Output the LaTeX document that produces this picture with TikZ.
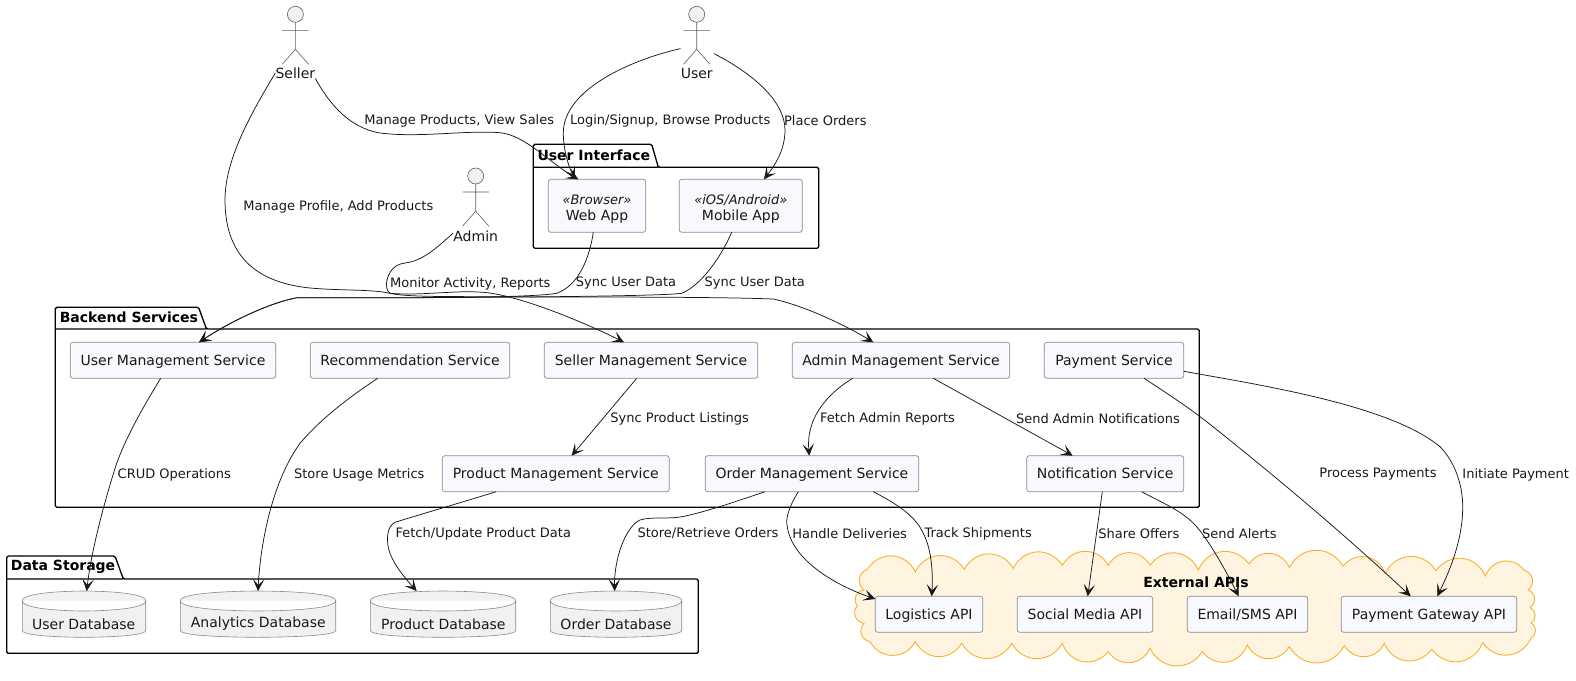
\documentclass[tikz,border=0pt]{standalone}
\usepackage{fontspec}
\setmainfont{DejaVu Sans}
\usepackage{xcolor}
\definecolor{svcfill}{HTML}{F8F9FE}
\definecolor{svcline}{HTML}{8A8A8A}
\definecolor{dbfill}{HTML}{F1F1F1}
\definecolor{inkline}{HTML}{181818}
\definecolor{cloudfill}{HTML}{FFF4E0}
\definecolor{cloudline}{HTML}{FBB02D}
\usetikzlibrary{arrows.meta, positioning}

\begin{document}
\begin{tikzpicture}[
      x = 1pt, y = -1pt,
      boxed/.style = {draw = svcline, fill = svcfill, line width = .7pt, rounded corners = 2.5pt,
                      inner sep = 0pt, outer sep = 0pt, font = \fontsize{14}{16}\selectfont, text = inkline},
      svc/.style   = {boxed, minimum height = 36pt, text height = 12.4pt, text depth = 3pt},
      app/.style   = {boxed, minimum height = 53pt, align = center},
      dbbody/.style= {inner sep = 0pt, outer sep = 0pt, minimum height = 46.3pt},
      dbshape/.style = {draw = svcline, fill = dbfill, line width = .6pt},
      dbtext/.style = {inner sep = 0pt, font = \fontsize{14}{17}\selectfont, text = inkline},
      actor/.style = {draw = inkline!70, line width = .6pt},
      head/.style  = {actor, fill = dbfill},
      who/.style   = {inner sep = 0pt, font = \fontsize{14}{17}\selectfont, text = inkline},
      pkg/.style   = {draw = black, line width = 1.3pt, rounded corners = 1.5pt},
      pkgname/.style = {anchor = west, inner sep = 0pt, font = \fontsize{14}{17}\selectfont\bfseries},
      arr/.style   = {-{Stealth[length = 12pt, width = 11.5pt, inset = 6pt]}, draw = inkline, line width = .75pt},
      lbl/.style   = {inner sep = 0pt, yshift = -1pt, font = \fontsize{13}{16}\selectfont, text = inkline},
      bump/.style  = {bend left = 60, looseness = 1.2},
      nub/.style   = {bend left = 60, looseness = 1.2}
    ]
  \useasboundingbox (0,0) rectangle (1576,680);

  % cloud -----------------------------------------------------------------
  \draw[draw = cloudline, fill = cloudfill, line width = .9pt]
    (867.3,569.3) to[bump] (915.3,571.7) to[bump] (964.3,569.3) to[bump] (1013.3,568.3)
    to[bump] (1062.3,565.3) to[bump] (1108.3,565.3) to[bump] (1150,565.3) to[bump] (1198.3,570)
    to[bump] (1249,564) to[bump] (1289.3,567.3) to[bump] (1343,566) to[bump] (1385,573.3)
    to[bump] (1436,570.7) to[bump] (1485.3,576) to[bump] (1524,570) to[nub] (1528.3,590)
    to[nub] (1530,607.7) to[nub] (1531,623) to[nub] (1531,638)
    to[bump] (1482.7,642.7) to[bump] (1431.7,649.3) to[bump] (1384.3,643.3) to[bump] (1344.3,645.7)
    to[bump] (1289.3,646.7) to[bump] (1247.3,645) to[bump] (1202.3,651.7) to[bump] (1150,648.3)
    to[bump] (1108.3,651.7) to[bump] (1062.3,643.3) to[bump] (1011.7,643.3) to[bump] (961.7,643.3)
    to[bump] (915.3,641.7) to[bump] (870,641.7) to[nub] (864,623.3) to[nub] (857.3,605.7)
    to[nub] (864,590) to[nub] (867.3,569.3) -- cycle;
    \node[pkgname, anchor = center] (cloudname) at (1196,582) {External APIs};

  % packages --------------------------------------------------------------
  \draw[pkg] (533.3,167.3) -- (533.3,144.3) -- (651.7,144.3) -- (658.3,167.3) -- (818.7,167.3)
             -- (818.7,248.3) -- (533.3,248.3) -- cycle (533.3,167.3) -- (658.3,167.3);
    \node[pkgname] (uiname) at (537.3,155) {User Interface};
  \draw[pkg] (55.3,329) -- (55.3,307.3) -- (198.6,307.3) -- (206.4,329) -- (1199.3,329)
             -- (1199.3,507.3) -- (55.3,507.3) -- cycle (55.3,329) -- (206.4,329);
    \node[pkgname] (bkname) at (59.6,317) {Backend Services};
  \draw[pkg] (6.7,579) -- (6.7,556) -- (115,556) -- (123.3,579) -- (698.3,579)
             -- (698.3,653.3) -- (6.7,653.3) -- cycle (6.7,579) -- (123.3,579);
    \node[pkgname] (dsname) at (10.7,567) {Data Storage};

  % actors ----------------------------------------------------------------
  \draw[head] (295.4,14.3) circle (8);
  \draw[actor] (295.4,22.3) -- (295.4,49.3) (282.2,30.3) -- (308.6,30.3)
               (282.2,64.3) -- (295.4,49.3) -- (308.6,64.3);
    \node[who] (seller) at (295.4,73) {Seller};
  \draw[head] (475.7,176) circle (8);
  \draw[actor] (475.7,184) -- (475.7,211.2) (462.5,192) -- (488.9,192)
               (462.5,226.3) -- (475.7,211.2) -- (488.9,226.3);
    \node[who] (admin) at (475.7,236) {Admin};
  \draw[head] (696.7,14.3) circle (8);
  \draw[actor] (696.7,22.3) -- (696.7,49.3) (683.5,30.3) -- (709.9,30.3)
               (683.5,64.3) -- (696.7,49.3) -- (709.9,64.3);
    \node[who] (user) at (696.7,73) {User};

  % apps and services -----------------------------------------------------
  \node[app, minimum width = 97.4pt] (web) at (597,205.8) {\rule{0pt}{17pt}{\fontsize{13}{16}\selectfont\textit{«Browser»}}\\Web App};
  \node[app, minimum width = 123pt] (mobile) at (740.8,205.8) {\rule{0pt}{17pt}{\fontsize{13}{16}\selectfont\textit{«iOS/Android»}}\\Mobile App};

  \node[svc, minimum width = 205.4pt] (usrsvc) at (173,360.3) {User Management Service};
  \node[svc, minimum width = 199.4pt] (recsvc) at (410,360.3) {Recommendation Service};
  \node[svc, minimum width = 213.4pt] (slrsvc) at (651,360.3) {Seller Management Service};
  \node[svc, minimum width = 217.4pt] (admsvc) at (901,360.3) {Admin Management Service};
  \node[svc, minimum width = 139.4pt] (paysvc) at (1114,360.3) {Payment Service};
  \node[svc, minimum width = 227pt] (prdsvc) at (555.8,473.7) {Product Management Service};
  \node[svc, minimum width = 213.4pt] (ordsvc) at (812,473.7) {Order Management Service};
  \node[svc, minimum width = 157pt] (ntfsvc) at (1105.2,473.7) {Notification Service};

  \node[svc, minimum width = 107.4pt] (logapi) at (929,614.3) {Logistics API};
  \node[svc, minimum width = 135.4pt] (socapi) at (1085,614.3) {Social Media API};
  \node[svc, minimum width = 120.4pt] (emlapi) at (1247.5,614.3) {Email/SMS API};
  \node[svc, minimum width = 175.4pt] (gwyapi) at (1429,614.3) {Payment Gateway API};

  % databases -------------------------------------------------------------
  \node[dbbody, minimum width = 123.4pt] (usrdb) at (84,614.2) {};
  \draw[dbshape] (22.3,600.7) .. controls (22.3,591) and (84,591) .. (84,591)
    .. controls (84,591) and (145.7,591) .. (145.7,600.7) -- (145.7,630.5)
    .. controls (145.7,637.3) and (84,637.3) .. (84,637.3)
    .. controls (84,637.3) and (22.3,637.3) .. (22.3,630.5) -- cycle
    (22.3,600.7) .. controls (22.3,611) and (84,611) .. (84,611)
    .. controls (84,611) and (145.7,611) .. (145.7,600.7);
    \node[dbtext] (usrdbname) at (83.7,624) {User Database};
  \node[dbbody, minimum width = 155.4pt] (anldb) at (258,614.2) {};
  \draw[dbshape] (180.3,600.7) .. controls (180.3,591) and (258,591) .. (258,591)
    .. controls (258,591) and (335.7,591) .. (335.7,600.7) -- (335.7,630.5)
    .. controls (335.7,637.3) and (258,637.3) .. (258,637.3)
    .. controls (258,637.3) and (180.3,637.3) .. (180.3,630.5) -- cycle
    (180.3,600.7) .. controls (180.3,611) and (258,611) .. (258,611)
    .. controls (258,611) and (335.7,611) .. (335.7,600.7);
    \node[dbtext] (anldbname) at (258.3,624) {Analytics Database};
  \node[dbbody, minimum width = 145.4pt] (prddb) at (443,614.2) {};
  \draw[dbshape] (370.3,600.7) .. controls (370.3,591) and (443,591) .. (443,591)
    .. controls (443,591) and (515.7,591) .. (515.7,600.7) -- (515.7,630.5)
    .. controls (515.7,637.3) and (443,637.3) .. (443,637.3)
    .. controls (443,637.3) and (370.3,637.3) .. (370.3,630.5) -- cycle
    (370.3,600.7) .. controls (370.3,611) and (443,611) .. (443,611)
    .. controls (443,611) and (515.7,611) .. (515.7,600.7);
    \node[dbtext] (prddbname) at (443.3,624) {Product Database};
  \node[dbbody, minimum width = 131.4pt] (orddb) at (616,614.2) {};
  \draw[dbshape] (550.3,600.7) .. controls (550.3,591) and (616,591) .. (616,591)
    .. controls (616,591) and (681.7,591) .. (681.7,600.7) -- (681.7,630.5)
    .. controls (681.7,637.3) and (616,637.3) .. (616,637.3)
    .. controls (616,637.3) and (550.3,637.3) .. (550.3,630.5) -- cycle
    (550.3,600.7) .. controls (550.3,611) and (616,611) .. (616,611)
    .. controls (616,611) and (681.7,611) .. (681.7,600.7);
    \node[dbtext] (orddbname) at (616,624) {Order Database};

  % actors to interface ---------------------------------------------------
  \draw[arr] (seller.south east) .. controls (330,105) and (350,128) .. (380,133)
    .. controls (420,138) and (465,130) .. (500,132.7)
    .. controls (525,135) and (550,163) .. ([xshift=-18.7pt]web.north);
    \node[lbl] (lbsales) at (459.2,120) {Manage Products, View Sales};
  \draw[arr] ([shift={(0,-19)}]user.north west) .. controls (630,60) and (563,90) .. (563.3,133.3)
    .. controls (563.5,150) and (568,165) .. ([xshift=-22pt]web.north);
    \node[lbl] (lblogin) at (670.2,120) {Login/Signup, Browse Products};
  \draw[arr] ([shift={(1,-14)}]user.north east) .. controls (750,72) and (785,100) .. (785,130)
    .. controls (785,150) and (775,165) .. ([xshift=23.2pt]mobile.north);
    \node[lbl] (lborders) at (825.3,120) {Place Orders};

  % actors to services ----------------------------------------------------
  \draw[arr] (seller.west) .. controls (250,115) and (225,160) .. (225,200)
    .. controls (225,250) and (250,282) .. (310,288)
    .. controls (345,291) and (370,289) .. (390,293.3)
    .. controls (420,296) and (455,290) .. (483,292.3)
    .. controls (520,295) and (590,325) .. ([xshift=-27pt]slrsvc.north);
    \node[lbl] (lbprofile) at (338.3,206) {Manage Profile, Add Products};
  \draw[arr] ([shift={(0,-3)}]admin.west) .. controls (440,245) and (430,254) .. (418.3,259.3)
    .. controls (408,264) and (402,262) .. (396,266)
    .. controls (387,272) and (383,288) .. (390,293.3)
    .. controls (410,298) and (470,296) .. (540,297)
    .. controls (620,297) and (720,297) .. (773.3,299)
    .. controls (805,306) and (845,325) .. ([xshift=-27.7pt]admsvc.north);
    \node[lbl] (lbmonitor) at (470.3,282.5) {Monitor Activity, Reports};
  \draw[arr] ([xshift=-3.7pt]web.south) .. controls (590,255) and (580,285) .. (556.7,293.3)
    .. controls (530,298) and (410,298) .. (296.4,297.8)
    .. controls (265,304) and (225,325) .. ([xshift=26pt]usrsvc.north);
    \node[lbl] (lbsyncweb) at (626,282.5) {Sync User Data};
  \draw[arr] ([xshift=-9.1pt]mobile.south) .. controls (722,255) and (702,285) .. (681.7,293.3)
    .. controls (655,297) and (410,298) .. (296.4,297.8)
    .. controls (265,304) and (225,325) .. ([xshift=26pt]usrsvc.north);
    \node[lbl] (lbsyncapp) at (754.8,282.5) {Sync User Data};

  % services to services --------------------------------------------------
  \draw[arr] ([xshift=-14.3pt]slrsvc.south) -- ([xshift=15.9pt]prdsvc.north);
    \node[lbl] (lblistings) at (679.7,417.5) {Sync Product Listings};
  \draw[arr] ([xshift=-48.3pt]admsvc.south) .. controls (825,395) and (806,420) .. ([xshift=-2.7pt]ordsvc.north);
    \node[lbl] (lbreports) at (887.5,417.5) {Fetch Admin Reports};
  \draw[arr] ([xshift=32.3pt]admsvc.south) -- ([xshift=-32.5pt]ntfsvc.north);
    \node[lbl] (lbnotify) at (1098,417.5) {Send Admin Notifications};

  % services to storage ---------------------------------------------------
  \draw[arr] ([xshift=-12.3pt]usrsvc.south) .. controls (140,412) and (125,440) .. (116.7,463.3)
    .. controls (108,490) and (92,545) .. ([xshift=2.7pt]usrdb.north);
    \node[lbl] (lbcrud) at (174.3,473.5) {CRUD Operations};
  \draw[arr] ([xshift=-32.3pt]recsvc.south) .. controls (345,400) and (320,420) .. (300,443.3)
    .. controls (270,485) and (260,550) .. (anldb.north);
    \node[lbl] (lbmetrics) at (359.3,473.5) {Store Usage Metrics};
  \draw[arr] ([xshift=-59.8pt]prdsvc.south) .. controls (463,502) and (425,513) .. (395,522.3)
    .. controls (388,526) and (387,535) .. (387.7,543.3)
    .. controls (389,560) and (405,578) .. ([xshift=-26.3pt]prddb.north);
    \node[lbl] (lbfetch) at (483.3,532.5) {Fetch/Update Product Data};
  \draw[arr] ([xshift=-47pt]ordsvc.south) .. controls (740,500) and (712,510) .. (686.7,515.7)
    .. controls (670,520) and (653,516) .. (640,520)
    .. controls (625,527) and (614,560) .. ([xshift=-1.3pt]orddb.north);
    \node[lbl] (lbstore) at (708,532.5) {Store/Retrieve Orders};

  % services to external apis ---------------------------------------------
  \draw[arr] ([xshift=-13.7pt]ordsvc.south) .. controls (790,505) and (785,518) .. (787.3,526.7)
    .. controls (792,560) and (835,585) .. ([shift={(0,-15.3)}]logapi.west);
    \node[lbl] (lbdeliver) at (849.7,532.5) {Handle Deliveries};
  \draw[arr] ([xshift=61.3pt]ordsvc.south) .. controls (895,503) and (915,515) .. (923.3,533.3)
    .. controls (932,550) and (933,575) .. ([xshift=2.7pt]logapi.north);
    \node[lbl] (lbtrack) at (978.2,532.5) {Track Shipments};
  \draw[arr] ([xshift=-2.9pt]ntfsvc.south) -- ([xshift=2.7pt]socapi.north);
    \node[lbl] (lboffers) at (1138.8,532.5) {Share Offers};
  \draw[arr] ([xshift=36.5pt]ntfsvc.south) .. controls (1160,502) and (1182,510) .. (1196.7,526.7)
    .. controls (1212,545) and (1228,575) .. ([xshift=-8.8pt]emlapi.north);
    \node[lbl] (lbalerts) at (1239.3,532.5) {Send Alerts};
  \draw[arr] ([xshift=30pt]paysvc.south) .. controls (1165,392) and (1185,405) .. (1206.7,421.7)
    .. controls (1280,480) and (1345,535) .. ([xshift=-18.3pt]gwyapi.north);
    \node[lbl] (lbprocess) at (1378,473.5) {Process Payments};
  \draw[arr] ([shift={(0,11)}]paysvc.east) .. controls (1260,385) and (1390,405) .. (1440,446.7)
    .. controls (1455,462) and (1462.7,485) .. (1462.7,506.7)
    .. controls (1462.7,540) and (1450,570) .. ([xshift=8.3pt]gwyapi.north);
    \node[lbl] (lbinitiate) at (1515.7,473.5) {Initiate Payment};

\end{tikzpicture}
\end{document}
